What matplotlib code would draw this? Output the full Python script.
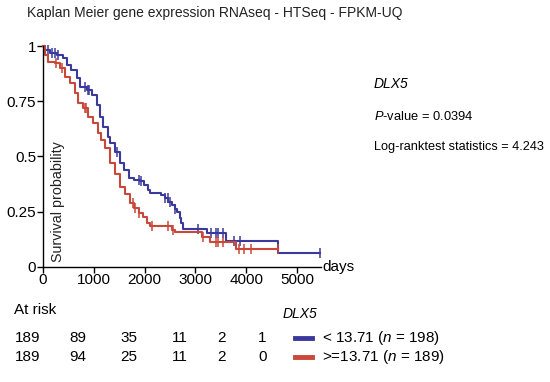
import numpy as np
import matplotlib
matplotlib.use("Agg")
import matplotlib.pyplot as plt

plt.rcParams["font.family"] = ["Liberation Sans", "DejaVu Sans"]
plt.rcParams["mathtext.fontset"] = "custom"
plt.rcParams["mathtext.rm"] = "Liberation Sans"
plt.rcParams["mathtext.it"] = "Liberation Sans:italic"

# Kaplan-Meier steps (days, survival)
blue_t = [0, 40, 140, 270, 400, 465, 560, 660, 730, 860, 960, 1055, 1120, 1185,
          1285, 1320, 1410, 1510, 1600, 1700, 1800, 1900, 1980, 2060, 2110, 2330,
          2400, 2460, 2530, 2590, 2630, 2690, 2725, 2760, 3220, 3600, 4620]
blue_s = [1.0, 0.984, 0.969, 0.961, 0.946, 0.916, 0.893, 0.855, 0.817, 0.80, 0.78,
          0.734, 0.68, 0.635, 0.59, 0.56, 0.52, 0.47, 0.44, 0.40, 0.395, 0.39, 0.37,
          0.35, 0.333, 0.325, 0.31, 0.295, 0.28, 0.262, 0.249, 0.219, 0.196, 0.169,
          0.154, 0.117, 0.06]
blue_end = 5450
blue_cens = [100, 180, 230, 300, 820, 880, 900, 1460, 1880, 1920, 2400, 2450,
             2500, 2600, 3050, 3300, 3400, 3450, 3550, 3750, 3880, 5450]

red_t = [0, 40, 105, 240, 335, 430, 530, 630, 695, 790, 890, 990, 1085, 1150,
         1220, 1320, 1420, 1510, 1610, 1710, 1800, 1880, 1970, 2050, 2110, 2530,
         2595, 3120, 3280, 3805]
red_s = [1.0, 0.96, 0.93, 0.924, 0.90, 0.863, 0.833, 0.787, 0.742, 0.719, 0.68,
         0.65, 0.605, 0.575, 0.54, 0.47, 0.42, 0.363, 0.33, 0.287, 0.265, 0.245,
         0.226, 0.20, 0.185, 0.166, 0.155, 0.133, 0.113, 0.080]
red_end = 4630
red_cens = [250, 380, 820, 850, 1770, 1820, 1890, 2150, 2450, 2550, 3150, 3400,
            3450, 3550, 3850, 3950, 4100, 4630]

at_risk_blue = [189, 89, 35, 11, 2, 1]
at_risk_red = [189, 94, 25, 11, 2, 0]
xticks = [0, 1000, 2000, 3000, 4000, 5000]
yticks = [0, 0.25, 0.5, 0.75, 1]
ytick_labels = ["0", "0.25", "0.5", "0.75", "1"]

BLUE = "#3b3a9c"
RED = "#c8483a"
W, H = 550, 382


def px(x, y):
    return x / W, 1 - y / H


def km(ax, t, s, end, cens, color):
    t = np.array(t + [end])
    s = np.array(s + [s[-1]])
    ax.step(t, s, where="post", color=color, lw=1.5, clip_on=False)
    idx = np.searchsorted(t, cens, side="right") - 1
    ax.plot(cens, s[idx], ls="none", marker="|", ms=6.5, mew=1.1,
            color=color, clip_on=False)


fig = plt.figure(figsize=(5.5, 3.82), dpi=100)
ax = fig.add_axes([43 / W, 1 - 266.5 / H, (321 - 43) / W, (266.5 - 46.5) / H])

km(ax, blue_t, blue_s, blue_end, blue_cens, BLUE)
km(ax, red_t, red_s, red_end, red_cens, RED)

ax.set_xlim(0, 5470)
ax.set_ylim(0, 1)
ax.set_xticks(xticks)
ax.set_yticks(yticks, ytick_labels)
for sp in ["top", "right"]:
    ax.spines[sp].set_visible(False)
for sp in ["left", "bottom"]:
    ax.spines[sp].set_linewidth(1.0)
ax.tick_params(direction="out", length=4, width=1.0, labelsize=11, pad=1)
ax.text(0.03, 0.02, "Survival probability", transform=ax.transAxes,
        rotation=90, ha="left", va="bottom", fontsize=10.3, color="#222222")
ax.text(1.005, 0.0, "days", transform=ax.transAxes, ha="left", va="center",
        fontsize=11)

fig.text(*px(27, 13), "Kaplan Meier gene expression RNAseq - HTSeq - FPKM-UQ",
         ha="left", va="center", fontsize=10, color="#222222")
fig.text(*px(374, 84), "DLX5", style="italic", ha="left", va="center", fontsize=10)
fig.text(*px(374, 116), "$P$-value = 0.0394", ha="left", va="center", fontsize=9.3)
fig.text(*px(374, 147), "Log-ranktest statistics = 4.243", ha="left", va="center",
         fontsize=9.2)

fig.text(*px(14, 310), "At risk", ha="left", va="center", fontsize=11)
fig.text(*px(283, 314), "DLX5", style="italic", ha="left", va="center", fontsize=10)
col_x = [15, 69, 120, 172, 217, 258]
for cx, b, r in zip(col_x, at_risk_blue, at_risk_red):
    fig.text(*px(cx, 338), str(b), ha="left", va="center", fontsize=11)
    fig.text(*px(cx, 357), str(r), ha="left", va="center", fontsize=11)

for yy, c, lab in [(338, BLUE, "< 13.71 ($n$ = 198)"),
                   (357, RED, ">=13.71 ($n$ = 189)")]:
    fig.add_artist(plt.Line2D([295 / W, 312 / W], [1 - yy / H] * 2,
                              color=c, lw=3.5, transform=fig.transFigure))
    fig.text(*px(322, yy), lab, ha="left", va="center", fontsize=11)

fig.savefig("out.png", dpi=100)
